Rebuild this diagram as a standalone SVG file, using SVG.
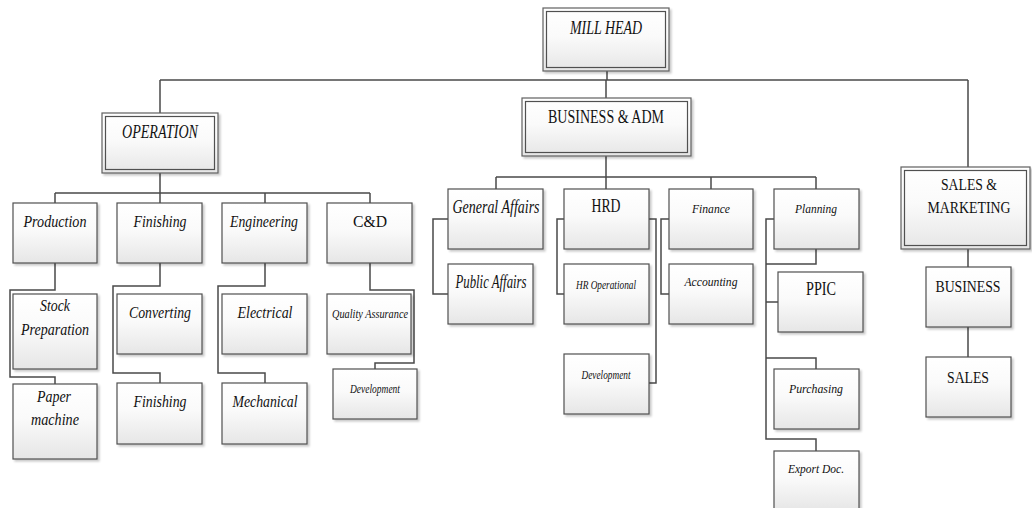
<svg xmlns="http://www.w3.org/2000/svg" width="1032" height="508" viewBox="0 0 1032 508">
  <defs>
    <linearGradient id="boxFill" x1="0" y1="0" x2="0" y2="1">
      <stop offset="0" stop-color="#ffffff"/>
      <stop offset="0.45" stop-color="#fafafa"/>
      <stop offset="1" stop-color="#e6e6e6"/>
    </linearGradient>
    <filter id="shadow" x="-10%" y="-10%" width="130%" height="130%">
      <feGaussianBlur in="SourceAlpha" stdDeviation="1"/>
      <feOffset dx="2" dy="2" result="off"/>
      <feComponentTransfer><feFuncA type="linear" slope="0.22"/></feComponentTransfer>
      <feMerge><feMergeNode/><feMergeNode in="SourceGraphic"/></feMerge>
    </filter>
  </defs>
  <style>
    .box { fill: url(#boxFill); stroke: #505050; stroke-width: 1.2; filter: url(#shadow); }
    .outer { fill: url(#boxFill); stroke: #606060; stroke-width: 1.2; filter: url(#shadow); }
    .inner { fill: none; stroke: #505050; stroke-width: 1.2; }
    .conn { fill: none; stroke: #4a4a4a; stroke-width: 1.5; }
    text { fill: #111111; text-anchor: middle; }
    .it { font-style: italic; }
    .big { font-size: 19px; }
    .mid { font-size: 17px; }
    .sm { font-size: 13px; }
  </style>
  <rect width="1032" height="508" fill="#ffffff"/>

  <g id="connectors">
    <path class="conn" d="M607 71 V80 M160 80 H968 M160 80 V113 M606 80 V98 M968 80 V167"/>
    <path class="conn" d="M160 173 V193 M55 193 H370 M55 193 V203 M160 193 V203 M265 193 V203 M370 193 V203"/>
    <path class="conn" d="M55 263 V290 H10 V377 H55 V384"/>
    <path class="conn" d="M160 263 V286 H113 V373 H160 V383"/>
    <path class="conn" d="M265 263 V286 H218 V373 H265 V383"/>
    <path class="conn" d="M370 263 V290 H414 V363 H375 V369"/>
    <path class="conn" d="M606 156 V177 M496 177 H816 M496 177 V189 M606 177 V189 M711 177 V189 M816 177 V189"/>
    <path class="conn" d="M448 219 H433 V294 H448"/>
    <path class="conn" d="M564 219 H557 V294 H564 M649 219 H656 V383 H649"/>
    <path class="conn" d="M669 219 H661 V294 H669"/>
    <path class="conn" d="M774 219 H766 V439 H816 V451 M816 249 V264 H766 M766 302 H778 M766 358 H816 V369"/>
    <path class="conn" d="M968 249 V267 M968 327 V357"/>
  </g>

  <g font-family="Liberation Serif, Times New Roman, serif">
  <g id="mill-head">
    <rect class="outer" x="543" y="8" width="126" height="63"/>
    <rect class="inner" x="546.5" y="11.5" width="119" height="56"/>
    <text class="it big" x="606" y="34" textLength="72" lengthAdjust="spacingAndGlyphs">MILL HEAD</text>
  </g>
  <g id="operation">
    <rect class="outer" x="102" y="113" width="116" height="60"/>
    <rect class="inner" x="105.5" y="116.5" width="109" height="53"/>
    <text class="it big" x="160" y="138" textLength="76" lengthAdjust="spacingAndGlyphs">OPERATION</text>
  </g>
  <g id="business-adm">
    <rect class="outer" x="522" y="98" width="169" height="58"/>
    <rect class="inner" x="525.5" y="101.5" width="162" height="51"/>
    <text class="big" x="606" y="123" textLength="116" lengthAdjust="spacingAndGlyphs">BUSINESS &amp; ADM</text>
  </g>
  <g id="sales-marketing">
    <rect class="outer" x="901" y="167" width="129" height="82"/>
    <rect class="inner" x="904.5" y="170.5" width="122" height="75"/>
    <text class="mid" x="969" y="190" textLength="56" lengthAdjust="spacingAndGlyphs">SALES &amp;</text>
    <text class="mid" x="969" y="213" textLength="83" lengthAdjust="spacingAndGlyphs">MARKETING</text>
  </g>

  <g id="production">
    <rect class="box" x="13" y="203" width="84" height="60"/>
    <text class="it mid" x="55" y="227" textLength="63" lengthAdjust="spacingAndGlyphs">Production</text>
  </g>
  <g id="finishing">
    <rect class="box" x="117" y="203" width="85" height="60"/>
    <text class="it mid" x="160" y="227" textLength="53" lengthAdjust="spacingAndGlyphs">Finishing</text>
  </g>
  <g id="engineering">
    <rect class="box" x="222" y="203" width="85" height="60"/>
    <text class="it mid" x="264" y="227" textLength="68" lengthAdjust="spacingAndGlyphs">Engineering</text>
  </g>
  <g id="c-and-d">
    <rect class="box" x="327" y="203" width="85" height="60"/>
    <text class="mid" x="370" y="227" textLength="34" lengthAdjust="spacingAndGlyphs">C&amp;D</text>
  </g>
  <g id="stock-preparation">
    <rect class="box" x="13" y="294" width="84" height="75"/>
    <text class="it mid" x="55" y="311" textLength="30" lengthAdjust="spacingAndGlyphs">Stock</text>
    <text class="it mid" x="55" y="335" textLength="68" lengthAdjust="spacingAndGlyphs">Preparation</text>
  </g>
  <g id="converting">
    <rect class="box" x="117" y="294" width="85" height="60"/>
    <text class="it mid" x="160" y="318" textLength="62" lengthAdjust="spacingAndGlyphs">Converting</text>
  </g>
  <g id="electrical">
    <rect class="box" x="222" y="294" width="85" height="60"/>
    <text class="it mid" x="265" y="318" textLength="55" lengthAdjust="spacingAndGlyphs">Electrical</text>
  </g>
  <g id="quality-assurance">
    <rect class="box" x="327" y="294" width="84" height="60"/>
    <text class="it sm" x="370" y="318" textLength="76" lengthAdjust="spacingAndGlyphs">Quality Assurance</text>
  </g>
  <g id="paper-machine">
    <rect class="box" x="13" y="384" width="84" height="75"/>
    <text class="it mid" x="54" y="402" textLength="34" lengthAdjust="spacingAndGlyphs">Paper</text>
    <text class="it mid" x="55" y="425" textLength="48" lengthAdjust="spacingAndGlyphs">machine</text>
  </g>
  <g id="finishing-2">
    <rect class="box" x="117" y="383" width="85" height="61"/>
    <text class="it mid" x="160" y="407" textLength="53" lengthAdjust="spacingAndGlyphs">Finishing</text>
  </g>
  <g id="mechanical">
    <rect class="box" x="222" y="383" width="85" height="61"/>
    <text class="it mid" x="265" y="407" textLength="65" lengthAdjust="spacingAndGlyphs">Mechanical</text>
  </g>
  <g id="cd-development">
    <rect class="box" x="333" y="369" width="84" height="50"/>
    <text class="it sm" x="375" y="393" textLength="50" lengthAdjust="spacingAndGlyphs">Development</text>
  </g>

  <g id="general-affairs">
    <rect class="box" x="448" y="189" width="95" height="60"/>
    <text class="it big" x="496" y="213" textLength="87" lengthAdjust="spacingAndGlyphs">General Affairs</text>
  </g>
  <g id="public-affairs">
    <rect class="box" x="448" y="264" width="85" height="60"/>
    <text class="it big" x="491" y="288" textLength="71" lengthAdjust="spacingAndGlyphs">Public Affairs</text>
  </g>
  <g id="hrd">
    <rect class="box" x="564" y="189" width="85" height="60"/>
    <text class="big" x="606" y="212" textLength="29" lengthAdjust="spacingAndGlyphs">HRD</text>
  </g>
  <g id="hr-operational">
    <rect class="box" x="564" y="264" width="85" height="60"/>
    <text class="it sm" x="606" y="289" textLength="60" lengthAdjust="spacingAndGlyphs">HR Operational</text>
  </g>
  <g id="hrd-development">
    <rect class="box" x="564" y="354" width="85" height="60"/>
    <text class="it sm" x="606" y="379" textLength="49" lengthAdjust="spacingAndGlyphs">Development</text>
  </g>
  <g id="finance">
    <rect class="box" x="669" y="189" width="84" height="60"/>
    <text class="it sm" x="711" y="213" textLength="38" lengthAdjust="spacingAndGlyphs">Finance</text>
  </g>
  <g id="accounting">
    <rect class="box" x="669" y="264" width="84" height="60"/>
    <text class="it sm" x="711" y="286" textLength="53" lengthAdjust="spacingAndGlyphs">Accounting</text>
  </g>
  <g id="planning">
    <rect class="box" x="774" y="189" width="85" height="60"/>
    <text class="it sm" x="816" y="213" textLength="42" lengthAdjust="spacingAndGlyphs">Planning</text>
  </g>
  <g id="ppic">
    <rect class="box" x="778" y="272" width="85" height="60"/>
    <text class="big" x="821" y="295" textLength="30" lengthAdjust="spacingAndGlyphs">PPIC</text>
  </g>
  <g id="purchasing">
    <rect class="box" x="774" y="369" width="85" height="60"/>
    <text class="it sm" x="816" y="393" textLength="54" lengthAdjust="spacingAndGlyphs">Purchasing</text>
  </g>
  <g id="export-doc">
    <rect class="box" x="774" y="451" width="85" height="60"/>
    <text class="it sm" x="816" y="473" textLength="56" lengthAdjust="spacingAndGlyphs">Export Doc.</text>
  </g>

  <g id="business">
    <rect class="box" x="926" y="267" width="85" height="60"/>
    <text class="mid" x="968" y="292" textLength="65" lengthAdjust="spacingAndGlyphs">BUSINESS</text>
  </g>
  <g id="sales">
    <rect class="box" x="926" y="357" width="85" height="60"/>
    <text class="mid" x="968" y="383" textLength="42" lengthAdjust="spacingAndGlyphs">SALES</text>
  </g>
  </g>
</svg>
